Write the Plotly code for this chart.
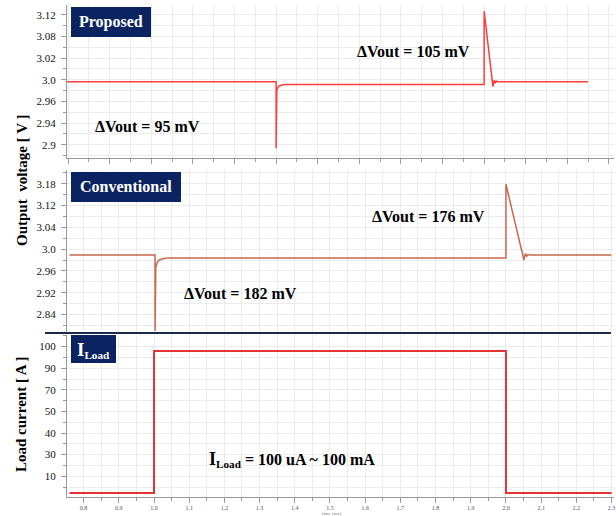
import plotly.graph_objects as go

# ---------------- data (time in ms) ----------------
# Proposed regulator output voltage [V]
t_prop = [0.753, 1.347, 1.347, 1.349, 1.352, 1.356, 1.362, 1.372, 1.938, 1.938,
          1.963, 1.966, 1.969, 1.972, 1.976, 2.233]
v_prop = [2.997, 2.997, 2.902, 2.985, 2.989, 2.991, 2.992, 2.993, 2.993, 3.098,
          2.990, 2.999, 2.995, 2.998, 2.997, 2.997]

# Conventional regulator output voltage [V]
t_conv = [0.760, 1.003, 1.003, 1.005, 1.009, 1.015, 1.025, 1.040, 2.000, 2.000,
          2.051, 2.055, 2.059, 2.063, 2.068, 2.300]
v_conv = [2.986, 2.986, 2.804, 2.955, 2.968, 2.974, 2.977, 2.979, 2.979, 3.155,
          2.974, 2.989, 2.983, 2.987, 2.986, 2.986]

# Load current step [mA]
t_load = [0.760, 1.000, 1.000, 2.000, 2.000, 2.300]
i_load = [0.1, 0.1, 100.0, 100.0, 0.1, 0.1]

# tick labels
prop_ticks = ["3.12", "3.08", "3.02", "3.0", "2.96", "2.94", "2.9"]
conv_ticks = ["3.18", "3.12", "3.04", "3.0", "2.96", "2.92", "2.84"]
load_ticks = ["100", "90", "70", "50", "40", "30", "10"]
time_ticks = ["0.8", "0.9", "1.0", "1.1", "1.2", "1.3", "1.4", "1.5",
              "1.6", "1.7", "1.8", "1.9", "2.0", "2.1", "2.2", "2.3"]

# ---------------- layout geometry ----------------
W, H = 616, 516
L, R, T, B = 67, 614, 5, 497


def px(x):
    return (x - L) / (R - L)


def py(y):
    return (B - y) / (B - T)


SERIF = "Liberation Serif, Times New Roman, serif"
NAVY = "#0b2461"
GRID = "#ebebeb"
AXIS = "#9a9a9a"
XR = [0.7528, 2.307]


def label_ticks(center, step, labels):
    """Evenly spaced labelled ticks around `center`, and grid lines every half step."""
    n = len(labels)
    vals = [center + step * ((n - 1) / 2 - i) for i in range(n)]
    grid = [vals[0] + step / 2 - k * step / 2 for k in range(2 * n + 1)]
    return vals, grid


def y_axis(domain, anchor, rng, vals, text, grid):
    return dict(domain=domain, anchor=anchor, range=rng,
                tickmode="array", tickvals=vals, ticktext=text,
                showline=True, linecolor=AXIS, linewidth=1,
                ticks="outside", ticklen=5, tickcolor=AXIS,
                tickfont=dict(family=SERIF, size=11, color="#111"),
                ticklabelstandoff=3, showgrid=True, gridcolor=GRID,
                zeroline=False,
                minor=dict(tickmode="array", tickvals=grid, ticks="outside",
                           ticklen=3, tickcolor=AXIS, showgrid=True,
                           gridcolor=GRID))


fig = go.Figure()
fig.add_trace(go.Scatter(x=t_prop, y=v_prop, mode="lines",
                         line=dict(color="#ff3d3d", width=1.5),
                         xaxis="x", yaxis="y", showlegend=False))
fig.add_trace(go.Scatter(x=t_conv, y=v_conv, mode="lines",
                         line=dict(color="#c8684f", width=1.5),
                         xaxis="x2", yaxis="y2", showlegend=False))
fig.add_trace(go.Scatter(x=t_load, y=i_load, mode="lines",
                         line=dict(color="#e53238", width=2),
                         xaxis="x3", yaxis="y3", showlegend=False))

# y tick positions per panel
p_step = 0.031
p_vals, p_grid = label_ticks(3.0, p_step, prop_ticks)
c_step = 0.0521
c_vals, c_grid = label_ticks(3.0, c_step, conv_ticks)
l_step = 15.2
l_vals, l_grid = label_ticks(103.1 - 3 * l_step, l_step, load_ticks)

# time axis: labels every 0.1 ms, grid every 0.05 ms
t_vals = [round(0.8 + 0.1 * i, 3) for i in range(len(time_ticks))]
t_grid = [round(0.75 + 0.05 * k, 3) for k in range(32)]

# top panel x grid pitch differs (separate simulation window)
top_major = [round(1.347 + 0.1182 * k, 4) for k in range(-6, 9)]
top_grid = [round(1.347 + 0.0591 * k, 4) for k in range(-11, 17)]

fig.update_layout(
    width=W, height=H, autosize=False,
    margin=dict(l=L, r=W - R, t=T, b=H - B),
    paper_bgcolor="white", plot_bgcolor="white",
    font=dict(family=SERIF),
    xaxis=dict(domain=[0, 1], anchor="y", range=XR, tickmode="array",
               tickvals=top_major, showticklabels=False, showgrid=True,
               gridcolor=GRID, showline=True, linecolor=AXIS, ticks="outside",
               ticklen=5, tickcolor=AXIS, zeroline=False,
               minor=dict(tickmode="array", tickvals=top_grid, ticks="outside",
                          ticklen=3, tickcolor=AXIS, showgrid=True,
                          gridcolor=GRID)),
    yaxis=y_axis([py(158), py(5)], "x", [2.888, 3.1068], p_vals, prop_ticks, p_grid),
    xaxis2=dict(domain=[0, 1], anchor="y2", range=XR, dtick=0.05, tick0=0.8,
                showticklabels=False, showgrid=True, gridcolor=GRID,
                showline=False, ticks="", zeroline=False),
    yaxis2=y_axis([py(333), py(170)], "x2", [2.7995, 3.189], c_vals, conv_ticks, c_grid),
    xaxis3=dict(domain=[0, 1], anchor="y3", range=XR, tickmode="array",
                tickvals=t_vals, ticktext=time_ticks, showgrid=True,
                gridcolor=GRID, showline=True, linecolor=AXIS, ticks="outside",
                ticklen=5, tickcolor=AXIS, zeroline=False,
                tickfont=dict(family=SERIF, size=6, color="#555"),
                minor=dict(tickmode="array", tickvals=t_grid, ticks="outside",
                           ticklen=3, tickcolor=AXIS, showgrid=True,
                           gridcolor=GRID)),
    yaxis3=y_axis([0, py(335)], "x3", [-2.71, 111.26], l_vals, load_ticks, l_grid),
)

shapes = []
annotations = []

# panel name boxes
for (x0, x1, y0, y1) in [(71, 151, 7, 37), (71, 181, 172, 202), (71, 116, 335, 363)]:
    shapes.append(dict(type="rect", xref="paper", yref="paper",
                       x0=px(x0), x1=px(x1), y0=py(y1), y1=py(y0),
                       fillcolor=NAVY, line=dict(width=0), layer="above"))

box_font = dict(family=SERIF, size=16, color="white")
annotations += [
    dict(text="<b>Proposed</b>", x=px(111), y=py(22), font=box_font),
    dict(text="<b>Conventional</b>", x=px(126), y=py(187), font=box_font),
    dict(text="<b><span style='font-size:19px'>I</span><sub>Load</sub></b>",
         x=px(93.5), y=py(350), font=box_font),
]

# separator between the voltage and current panels
shapes.append(dict(type="line", xref="paper", yref="paper",
                   x0=px(45), x1=px(611), y0=py(333), y1=py(333),
                   line=dict(color="#1d2b4b", width=2), layer="above"))

dv_font = dict(family=SERIF, size=16, color="black")
annotations += [
    dict(text="<b>ΔVout = 95 mV</b>", x=px(147), y=py(126), font=dv_font),
    dict(text="<b>ΔVout = 105 mV</b>", x=px(413), y=py(51), font=dv_font),
    dict(text="<b>ΔVout = 182 mV</b>", x=px(240), y=py(293), font=dv_font),
    dict(text="<b>ΔVout = 176 mV</b>", x=px(428), y=py(216), font=dv_font),
    dict(text="<b><span style='font-size:18px'>I</span><sub>Load</sub> = 100 uA ~ 100 mA</b>",
         x=px(292), y=py(459), font=dv_font),
]

# axis titles
title_font = dict(family=SERIF, size=15, color="black")
annotations += [
    dict(text="<b>Output  voltage [ V ]</b>", x=px(22), y=py(180), textangle=-90,
         font=title_font),
    dict(text="<b>Load current [ A ]</b>", x=px(21), y=py(414), textangle=-90,
         font=title_font),
    dict(text="time (ms)", x=px(332), y=py(513),
         font=dict(family=SERIF, size=5, color="#777")),
]

for a in annotations:
    a.update(xref="paper", yref="paper", showarrow=False,
             xanchor="center", yanchor="middle")

fig.update_layout(shapes=shapes, annotations=annotations)
fig.write_html("out.html")
